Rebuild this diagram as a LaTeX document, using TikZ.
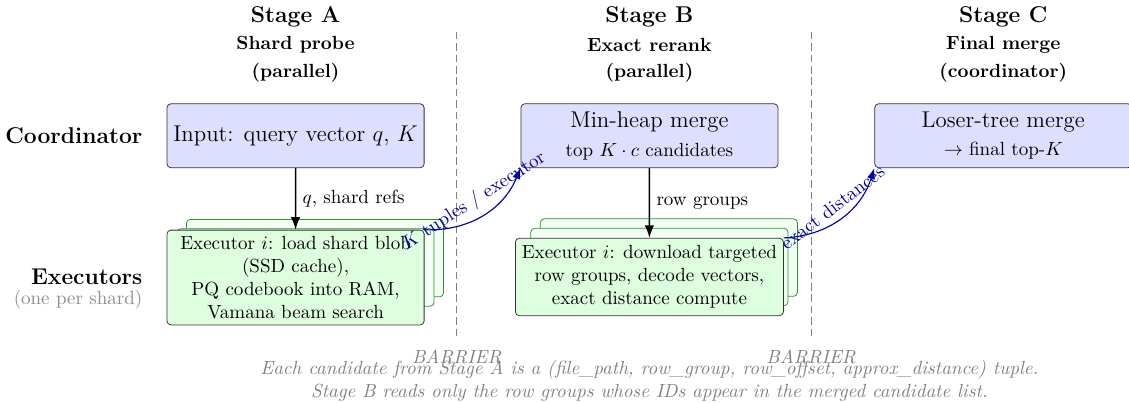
\documentclass[tikz,border=0pt]{standalone}
\usepackage{amsmath,amssymb}
\usepackage{xcolor}
\usepackage{tikz}
\usetikzlibrary{positioning,calc,arrows.meta}

\definecolor{coordfill}{RGB}{222,222,255}
\definecolor{execfill}{RGB}{222,255,222}
\definecolor{execback}{RGB}{243,255,243}
\definecolor{backedge}{RGB}{40,150,40}
\definecolor{flowblue}{RGB}{0,0,170}

\begin{document}
\begin{tikzpicture}[scale=0.97,
    coordbox/.style={draw=black!80, fill=coordfill, rounded corners=2pt, minimum width=4.75cm, minimum height=1.18cm, align=center, font=\large},
    execbox/.style={draw=black!80, fill=execfill, rounded corners=2pt, minimum width=4.75cm, minimum height=1.43cm, align=center},
    execcopy/.style={draw=backedge, fill=execback, rounded corners=2pt, minimum width=4.75cm, minimum height=1.43cm},
    stagehead/.style={font=\large\bfseries},
    stagesub/.style={font=\bfseries},
    rowlabel/.style={font=\large\bfseries, anchor=east},
    barrier/.style={gray, semithick, dash pattern=on 4pt off 2pt},
    flow/.style={-{Latex}, thick},
    handoff/.style={-{Latex}, semithick, flowblue},
]
    \useasboundingbox (0,0) rectangle (21.505,7.676);

    % Stage headers
    \node[stagehead] (headA) at (5.63,7.35) {Stage A};
    \node[stagesub] (subA) at (5.63,6.82) {Shard probe};
    \node[stagesub] (modeA) at (5.63,6.29) {(parallel)};
    \node[stagehead] (headB) at (12.37,7.35) {Stage B};
    \node[stagesub] (subB) at (12.37,6.82) {Exact rerank};
    \node[stagesub] (modeB) at (12.37,6.29) {(parallel)};
    \node[stagehead] (headC) at (19.11,7.35) {Stage C};
    \node[stagesub] (subC) at (19.11,6.82) {Final merge};
    \node[stagesub] (modeC) at (19.11,6.29) {(coordinator)};

    % Barriers
    \coordinate (barAtop) at (8.70,7.07);
    \coordinate (barAbot) at (8.70,1.20);
    \coordinate (barBtop) at (15.45,7.07);
    \coordinate (barBbot) at (15.45,1.20);
    \draw[barrier] (barAtop) -- (barAbot);
    \draw[barrier] (barBtop) -- (barBbot);
    \node[gray, font=\itshape] (barAlbl) at (8.70,0.88) {BARRIER};
    \node[gray, font=\itshape] (barBlbl) at (15.45,0.88) {BARRIER};

    % Row labels
    \node[rowlabel] (coordlbl) at (2.84,5.09) {Coordinator};
    \node[rowlabel] (execlbl) at (2.84,2.40) {Executors};
    \node[anchor=east, black!45] (execnote) at (2.84,1.97) {(one per shard)};

    % Coordinator boxes
    \node[coordbox] (input) at (5.63,5.09) {Input: query vector $q$, $K$};
    \node[coordbox] (minheap) at (12.37,5.09) {Min-heap merge\\[1pt]{\normalsize top $K\cdot c$ candidates}};
    \node[coordbox] (losertree) at (19.11,5.09) {Loser-tree merge\\[1pt]{\normalsize $\rightarrow$ final top-$K$}};

    % Executor stacks
    \node[execcopy] (execAback2) at (6.00,2.76) {};
    \node[execcopy] (execAback1) at (5.82,2.58) {};
    \node[execbox] (execA) at (5.63,2.39) {Executor $i$: load shard blob\\(SSD cache),\\PQ codebook into RAM,\\Vamana beam search};
    \node[execcopy] (execBback2) at (12.74,2.77) {};
    \node[execcopy] (execBback1) at (12.56,2.59) {};
    \node[execbox] (execB) at (12.37,2.40) {Executor $i$: download targeted\\row groups, decode vectors,\\exact distance compute};

    % Flows
    \draw[flow] (input) -- node[right] {$q$, shard refs} (execA);
    \draw[flow] (minheap) -- node[right] {row groups} (execB);
    \draw[handoff] (execA.north east) to[bend right=35] node[midway, above, sloped] {$K$ tuples / executor} (minheap.south west);
    \draw[handoff] (execB.north east) to[bend right=35] node[midway, above, sloped] {exact distances} (losertree.south west);

    % Note
    \node[gray, font=\itshape, align=center] (note) at (12.37,0.42) {Each candidate from Stage A is a (file\_path, row\_group, row\_offset, approx\_distance) tuple.\\Stage B reads only the row groups whose IDs appear in the merged candidate list.};
\end{tikzpicture}
\end{document}
